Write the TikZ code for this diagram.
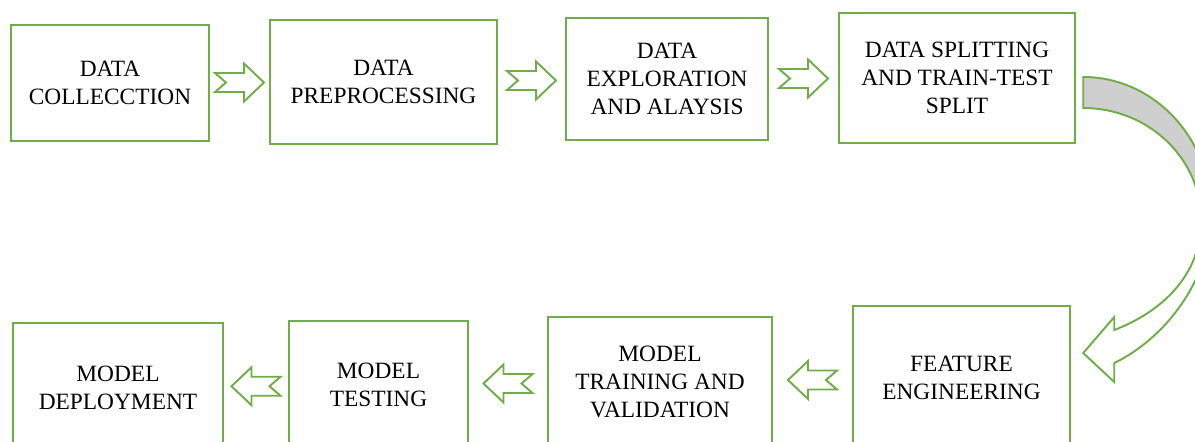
\documentclass[tikz,border=0pt]{standalone}
\usepackage{fontspec}
\setmainfont{Liberation Serif}
\usetikzlibrary{calc}
\definecolor{stagegreen}{HTML}{70AD47}
\definecolor{backgray}{HTML}{CFCFCF}
\tikzset{
  stage/.style={draw=stagegreen, line width=1.4pt, align=center, inner sep=2pt,
    font=\fontsize{13.3}{15.9}\selectfont},
  flowarrow/.pic={
    \draw[stagegreen, line width=1.1pt] (-24.5,-9.5) -- (4.5,-9.5) -- (4.5,-19) -- (24.5,0)
      -- (4.5,19) -- (4.5,9.5) -- (-24.5,9.5) -- (-13.5,0) -- cycle;
  }
}
\begin{document}
\begin{tikzpicture}[x=0.02cm,y=-0.02cm]
\useasboundingbox (0,0) rectangle (1195,441);
\clip (0,0) rectangle (1195,441);
% first row
\node (collect) [stage, minimum width=3.96cm, minimum height=2.32cm] at (110,83) {DATA\\COLLECCTION};
\node (preproc) [stage, minimum width=4.54cm, minimum height=2.48cm] at (383.5,82) {DATA\\PREPROCESSING};
\node (explore) [stage, minimum width=4.04cm, minimum height=2.44cm] at (667,79) {DATA\\EXPLORATION\\AND ALAYSIS};
\node (split) [stage, minimum width=4.72cm, minimum height=2.60cm] at (957,78) {DATA SPLITTING\\AND TRAIN-TEST\\SPLIT};
% second row
\node (feature) [stage, minimum width=4.34cm, minimum height=2.88cm] at (961.5,378) {FEATURE\\ENGINEERING};
\node (train) [stage, minimum width=4.48cm, minimum height=2.60cm] at (660,382) {MODEL\\TRAINING AND\\VALIDATION};
\node (test) [stage, minimum width=3.58cm, minimum height=2.56cm] at (378.5,385) {MODEL\\TESTING};
\node (deploy) [stage, minimum width=4.20cm, minimum height=2.58cm] at (118,387.5) {MODEL\\DEPLOYMENT};
% block arrows
\pic at ($(collect.east)!0.5!(preproc.west)$) {flowarrow};
\pic at ($(preproc.east)!0.5!(explore.west)$) {flowarrow};
\pic at ($(explore.east)!0.5!(split.west)$) {flowarrow};
\pic[rotate=180] at ($(train.east)!0.5!(feature.west)$) {flowarrow};
\pic[rotate=180] at ($(test.east)!0.5!(train.west)$) {flowarrow};
\pic[rotate=180] at ($(deploy.east)!0.5!(test.west)$) {flowarrow};
% curved arrow down to the second row
\coordinate (turn) at ($(split.east)+(7,-1)$);
\coordinate (turnend) at ($(feature.east)+(12,-25)$);
\fill[backgray] (turn) arc[start angle=-90, end angle=0, x radius=128, y radius=136.5]
  -- ++(-10,7) arc[start angle=0, end angle=-90, x radius=118, y radius=112.5] -- cycle;
\draw[stagegreen, line width=1.1pt] (turn) arc[start angle=-90, end angle=0, x radius=128, y radius=136.5]
  .. controls +(0,66.5) and +(50,-24) .. ($(turnend)+(31,10)$) -- ++(0,19) -- (turnend)
  -- ++(31,-36) -- ++(0,13) .. controls +(47,-18) and +(0,55) .. ++(87,-109.5)
  arc[start angle=0, end angle=-90, x radius=118, y radius=112.5] -- cycle;
\end{tikzpicture}
\end{document}
